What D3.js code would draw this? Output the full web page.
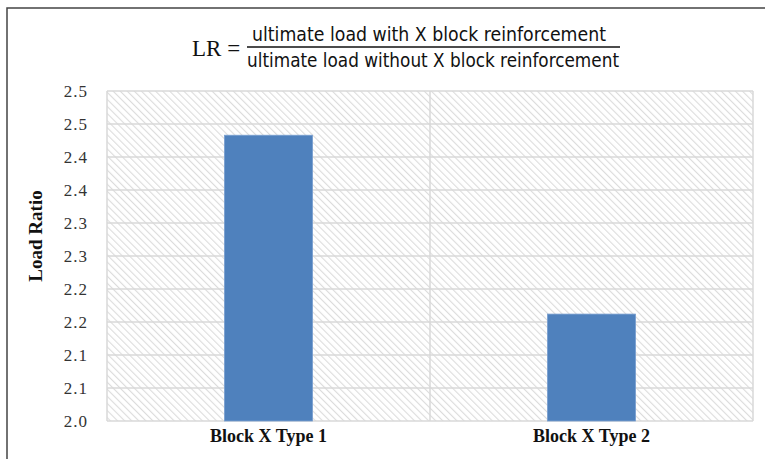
<!DOCTYPE html>
<html><head><meta charset="utf-8">
<script src="https://cdn.jsdelivr.net/npm/d3@7"></script>
<style>html,body{margin:0;padding:0;background:#fff;}svg{display:block;}</style>
</head><body>
<svg id="c" width="765" height="459"></svg>
<script>
const categories = ["Block X Type 1", "Block X Type 2"];
const loadRatio = [2.433, 2.162];
const tickValues = [2.0, 2.05, 2.1, 2.15, 2.2, 2.25, 2.3, 2.35, 2.4, 2.45, 2.5];
const yTitle = "Load Ratio";
const numerator = "ultimate load with X block reinforcement";
const denominator = "ultimate load without X block reinforcement";

const SERIF = "'Liberation Serif', 'Times New Roman', serif";
const NARROW = "'Liberation Sans Narrow', 'DejaVu Sans Condensed', 'Open Sans', sans-serif";

const svg = d3.select("#c");
const m = {left: 107, right: 12, top: 91, bottom: 38};
const W = 765, H = 459;
const x = d3.scaleBand().domain(categories).range([m.left, W - m.right]).paddingInner(0).paddingOuter(0);
const y = d3.scaleLinear().domain([2.0, 2.5]).range([H - m.bottom, m.top]);

// frame
svg.append("path").attr("d", `M7,${H} L7,8 L${W},8`).attr("fill", "none").attr("stroke", "#444").attr("stroke-width", 1.5);

// hatch pattern
const defs = svg.append("defs");
const pat = defs.append("pattern").attr("id", "hatch").attr("patternUnits", "userSpaceOnUse")
  .attr("width", 5).attr("height", 5).attr("patternTransform", "rotate(-45)");
pat.append("rect").attr("width", 5).attr("height", 5).attr("fill", "#fff");
pat.append("line").attr("x1", 0).attr("y1", 0).attr("x2", 0).attr("y2", 5).attr("stroke", "#dcdcdc").attr("stroke-width", 2.2);

svg.append("rect").attr("x", m.left).attr("y", m.top).attr("width", W - m.right - m.left).attr("height", H - m.bottom - m.top)
  .attr("fill", "url(#hatch)");

// gridlines
svg.append("g").selectAll("line").data(tickValues).join("line")
  .attr("x1", m.left).attr("x2", W - m.right)
  .attr("y1", d => y(d)).attr("y2", d => y(d))
  .attr("stroke", "#d9d9d9").attr("stroke-width", 1.5);
const bounds = [m.left, x(categories[1]), W - m.right];
svg.append("g").selectAll("line").data(bounds).join("line")
  .attr("x1", d => d).attr("x2", d => d)
  .attr("y1", m.top).attr("y2", H - m.bottom)
  .attr("stroke", "#d9d9d9").attr("stroke-width", 1.5);

// bars
const bw = x.bandwidth() * 0.273;
svg.append("g").selectAll("rect").data(categories).join("rect")
  .attr("x", d => x(d) + x.bandwidth() / 2 - bw / 2)
  .attr("width", bw)
  .attr("y", (d, i) => y(loadRatio[i]))
  .attr("height", (d, i) => y(2.0) - y(loadRatio[i]))
  .attr("fill", "#4f81bd").attr("stroke", "#7aa0d0").attr("stroke-width", 0.8);

// y axis (labels rounded half-up to one decimal, as in the source)
const fmt = d => (Math.round(d * 10 + 1e-6) / 10).toFixed(1);
const yAxis = d3.axisLeft(y).tickValues(tickValues).tickSize(0).tickPadding(0).tickFormat(fmt);
const ya = svg.append("g").attr("transform", `translate(88,0)`).call(yAxis)
  .attr("font-family", SERIF).attr("font-size", 17);
ya.select(".domain").remove();
ya.selectAll("text").style("font-family", SERIF).style("font-size", "17px").attr("fill", "#333")
  .attr("letter-spacing", 1).attr("dy", "0.32em");

// x axis
const xAxis = d3.axisBottom(x).tickSize(0).tickPadding(0);
const xa = svg.append("g").attr("transform", `translate(0,${H - m.bottom + 8})`).call(xAxis)
  .attr("font-family", SERIF).attr("font-size", 18);
xa.select(".domain").remove();
xa.selectAll("text").style("font-family", SERIF).style("font-size", "18px").style("font-weight", "bold").attr("fill", "#111")
  .attr("dy", "0.71em");

// y title
svg.append("text").attr("transform", "translate(42,236) rotate(-90)")
  .attr("text-anchor", "middle").style("font-family", SERIF).style("font-size", "19px").style("font-weight", "bold")
  .attr("fill", "#111").text(yTitle);

// title formula
const tg = svg.append("g");
tg.append("text").attr("x", 192).attr("y", 56).style("font-family", SERIF).style("font-size", "23px").attr("fill", "#111").text("LR =");
tg.append("line").attr("x1", 247).attr("x2", 620).attr("y1", 47).attr("y2", 47).attr("stroke", "#111").attr("stroke-width", 1.3);
tg.append("text").attr("x", 429).attr("y", 41).attr("text-anchor", "middle").style("font-family", NARROW)
  .style("font-size", "19px").attr("fill", "#111").attr("textLength", 354).attr("lengthAdjust", "spacingAndGlyphs").text(numerator);
tg.append("text").attr("x", 433).attr("y", 67).attr("text-anchor", "middle").style("font-family", NARROW)
  .style("font-size", "19px").attr("fill", "#111").attr("textLength", 372).attr("lengthAdjust", "spacingAndGlyphs").text(denominator);
</script>
</body></html>
